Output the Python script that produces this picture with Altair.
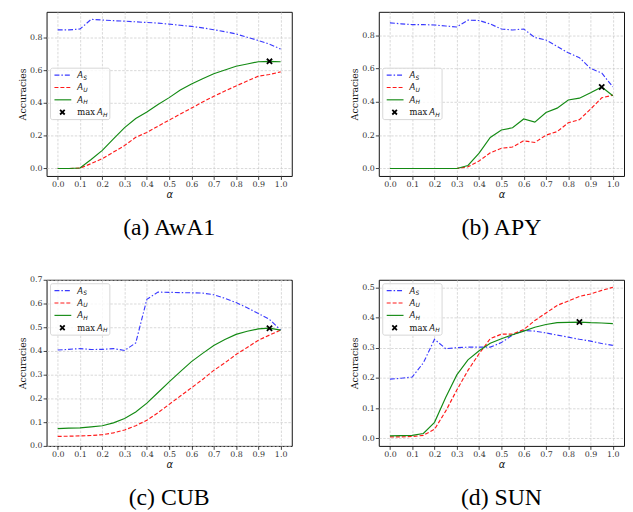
import altair as alt
import pandas as pd

# ---------------- data ----------------
alpha = [0.0, 0.05, 0.1, 0.15, 0.2, 0.25, 0.3, 0.35, 0.4, 0.45, 0.5,
         0.55, 0.6, 0.65, 0.7, 0.75, 0.8, 0.85, 0.9, 0.95, 1.0]
x_ticks = [0.0, 0.1, 0.2, 0.3, 0.4, 0.5, 0.6, 0.7, 0.8, 0.9, 1.0]

captions = ["(a) AwA1", "(b) APY", "(c) CUB", "(d) SUN"]

awa1_s = [0.845, 0.845, 0.850, 0.909, 0.905, 0.901, 0.898, 0.894, 0.890, 0.886, 0.880,
          0.873, 0.866, 0.857, 0.846, 0.834, 0.820, 0.800, 0.780, 0.758, 0.728]
awa1_u = [0.0, 0.0, 0.002, 0.030, 0.060, 0.100, 0.140, 0.190, 0.220, 0.258, 0.295,
          0.332, 0.368, 0.405, 0.440, 0.472, 0.503, 0.533, 0.563, 0.573, 0.589]
awa1_h = [0.0, 0.0, 0.003, 0.055, 0.110, 0.180, 0.249, 0.305, 0.344, 0.390, 0.432,
          0.478, 0.515, 0.547, 0.577, 0.600, 0.623, 0.637, 0.651, 0.653, 0.651]

apy_s = [0.874, 0.868, 0.863, 0.863, 0.861, 0.855, 0.849, 0.890, 0.888, 0.867, 0.837,
         0.831, 0.837, 0.786, 0.771, 0.733, 0.694, 0.665, 0.600, 0.573, 0.489]
apy_u = [0.0, 0.0, 0.0, 0.0, 0.0, 0.0, 0.0, 0.010, 0.045, 0.094, 0.121,
         0.129, 0.166, 0.156, 0.200, 0.221, 0.274, 0.293, 0.356, 0.424, 0.440]
apy_h = [0.0, 0.0, 0.0, 0.0, 0.0, 0.0, 0.0, 0.018, 0.092, 0.186, 0.231,
         0.244, 0.297, 0.278, 0.336, 0.362, 0.411, 0.422, 0.454, 0.489, 0.436]

cub_s = [0.404, 0.407, 0.410, 0.406, 0.407, 0.410, 0.402, 0.434, 0.618, 0.648, 0.647,
         0.646, 0.645, 0.644, 0.637, 0.622, 0.604, 0.582, 0.558, 0.533, 0.488]
cub_u = [0.040, 0.041, 0.042, 0.044, 0.047, 0.055, 0.067, 0.085, 0.108, 0.140, 0.175,
         0.210, 0.245, 0.280, 0.318, 0.350, 0.385, 0.415, 0.445, 0.467, 0.488]
cub_h = [0.073, 0.075, 0.076, 0.080, 0.085, 0.097, 0.115, 0.143, 0.180, 0.225, 0.270,
         0.313, 0.355, 0.390, 0.423, 0.448, 0.470, 0.483, 0.493, 0.496, 0.488]

sun_s = [0.196, 0.199, 0.203, 0.250, 0.328, 0.297, 0.300, 0.302, 0.302, 0.302, 0.317,
         0.342, 0.357, 0.355, 0.349, 0.342, 0.335, 0.328, 0.322, 0.314, 0.308]
sun_u = [0.005, 0.005, 0.006, 0.010, 0.030, 0.090, 0.160, 0.225, 0.280, 0.330, 0.345,
         0.345, 0.360, 0.390, 0.415, 0.440, 0.455, 0.470, 0.478, 0.490, 0.500]
sun_h = [0.008, 0.009, 0.010, 0.016, 0.053, 0.135, 0.210, 0.260, 0.290, 0.315, 0.330,
         0.343, 0.355, 0.368, 0.377, 0.383, 0.384, 0.385, 0.383, 0.382, 0.380]

series_sets = [(awa1_s, awa1_u, awa1_h), (apy_s, apy_u, apy_h),
               (cub_s, cub_u, cub_h), (sun_s, sun_u, sun_h)]

y_domains = [[-0.0455, 0.955], [-0.045, 0.94], [0.0, 0.7], [-0.025, 0.525]]
y_ticks = [[0.0, 0.2, 0.4, 0.6, 0.8], [0.0, 0.2, 0.4, 0.6, 0.8],
           [0.0, 0.1, 0.2, 0.3, 0.4, 0.5, 0.6, 0.7],
           [0.0, 0.1, 0.2, 0.3, 0.4, 0.5]]

series_keys = ["S", "U", "H"]
legend_subs = ["S", "U", "H"]

# ---------------- styles ----------------
SERIF = "DejaVu Serif"
SANS = "DejaVu Sans"
CAPTION_FONT = "Liberation Serif"
COLORS = {"S": "#3a3aff", "U": "#ff1a1a", "H": "#138a13"}
DASHES = {"S": [5, 2, 1.5, 2], "U": [4, 2]}
XSHAPE = "M-1,-1L1,1M-1,1L1,-1"
LW = 1.15

one = pd.DataFrame({"k": [0]})


def panel(i, W, H, leg_top, cap_offset):
    s, u, h = series_sets[i]
    x_axis = alt.Axis(values=x_ticks, tickCount=len(x_ticks), format=".1f", title="α",
                      titleFont=SANS, titleFontStyle="italic", titleFontSize=10,
                      titlePadding=1, labelOverlap=False)
    y_axis = alt.Axis(values=y_ticks[i], tickCount=len(y_ticks[i]), format=".1f",
                      title="Accuracies", titleFont=SERIF, titleFontSize=9.5,
                      titlePadding=2, labelOverlap=False)
    x_scale = alt.Scale(domain=[-0.05, 1.05], nice=False, zero=False)
    y_scale = alt.Scale(domain=y_domains[i], nice=False, zero=False)

    def xe():
        return alt.X("alpha:Q", scale=x_scale, axis=x_axis)

    def ye():
        return alt.Y("acc:Q", scale=y_scale, axis=y_axis)

    layers = []
    for key, vals in zip(series_keys, (s, u, h)):
        df = pd.DataFrame({"alpha": alpha, "acc": vals})
        mk = dict(stroke=COLORS[key], strokeWidth=LW)
        if key in DASHES:
            mk["strokeDash"] = DASHES[key]
        layers.append(alt.Chart(df).mark_line(**mk).encode(x=xe(), y=ye()))
    k = max(range(len(h)), key=lambda j: h[j])
    mdf = pd.DataFrame({"alpha": [alpha[k]], "acc": [h[k]]})
    layers.append(alt.Chart(mdf).mark_point(shape=XSHAPE, size=28, stroke="black",
                                            strokeWidth=1.8, filled=False, opacity=1)
                  .encode(x=xe(), y=ye()))

    # ----- legend -----
    bx = 4
    bw = 60
    bh = 52
    layers.append(alt.Chart(one).mark_rect(fill="white", fillOpacity=0.8, stroke="#cccccc",
                                           strokeWidth=0.8, cornerRadius=2)
                  .encode(x=alt.value(bx), x2=alt.value(bx + bw),
                          y=alt.value(leg_top), y2=alt.value(leg_top + bh)))
    ys = [leg_top + 7, leg_top + 19.5, leg_top + 32, leg_top + 44.5]
    for j, key in enumerate(series_keys):
        mk = dict(stroke=COLORS[key], strokeWidth=LW)
        if key in DASHES:
            mk["strokeDash"] = DASHES[key]
        layers.append(alt.Chart(one).mark_rule(**mk)
                      .encode(x=alt.value(bx + 4), x2=alt.value(bx + 21), y=alt.value(ys[j])))
        layers.append(alt.Chart(one).mark_text(text="A", font=SANS, fontStyle="italic",
                                               fontSize=8.5, align="left", baseline="middle",
                                               color="#111")
                      .encode(x=alt.value(bx + 27), y=alt.value(ys[j])))
        layers.append(alt.Chart(one).mark_text(text=legend_subs[j], font=SANS,
                                               fontStyle="italic", fontSize=6, align="left",
                                               baseline="middle", color="#111")
                      .encode(x=alt.value(bx + 33), y=alt.value(ys[j] + 2.5)))
    layers.append(alt.Chart(one).mark_point(shape=XSHAPE, size=22, stroke="black",
                                            strokeWidth=1.8, filled=False, opacity=1)
                  .encode(x=alt.value(bx + 12), y=alt.value(ys[3])))
    layers.append(alt.Chart(one).mark_text(text="max", font=SERIF, fontSize=8.5,
                                           align="left", baseline="middle", color="#111")
                  .encode(x=alt.value(bx + 27), y=alt.value(ys[3])))
    layers.append(alt.Chart(one).mark_text(text="A", font=SANS, fontStyle="italic",
                                           fontSize=8.5, align="left", baseline="middle",
                                           color="#111")
                  .encode(x=alt.value(bx + 47), y=alt.value(ys[3])))
    layers.append(alt.Chart(one).mark_text(text="H", font=SANS, fontStyle="italic",
                                           fontSize=6, align="left", baseline="middle",
                                           color="#111")
                  .encode(x=alt.value(bx + 53), y=alt.value(ys[3] + 2.5)))

    return alt.layer(*layers).properties(
        width=W, height=H,
        title=alt.TitleParams(captions[i], orient="bottom", anchor="middle",
                              font=CAPTION_FONT, fontSize=24, fontWeight="normal",
                              color="black", offset=cap_offset))


W = 248
p0 = panel(0, W, 166, 57, 17)
p1 = panel(1, W, 166, 57, 17)
p2 = panel(2, W, 168, 4, 17)
p3 = panel(3, W, 168, 4, 17)

chart = alt.concat(p0, p1, p2, p3, columns=2, spacing={"row": 105, "column": 88},
                   bounds="flush", align="each").properties(
    padding={"left": 9, "top": 0, "right": 0, "bottom": 0}
).configure_view(stroke="#111111", strokeWidth=1).configure_axis(
    labelFont=SERIF, labelFontSize=8, labelColor="#333333", labelPadding=1,
    labelOverlap=False,
    tickColor="#111111", tickSize=3.5, tickWidth=0.8, domain=False,
    gridColor="#c8c8c8", gridDash=[2.5, 1.5], gridWidth=0.7,
    titleFontWeight="normal", titleColor="#111111")

chart.save("out.html", embed_options={"renderer": "svg", "actions": False})
